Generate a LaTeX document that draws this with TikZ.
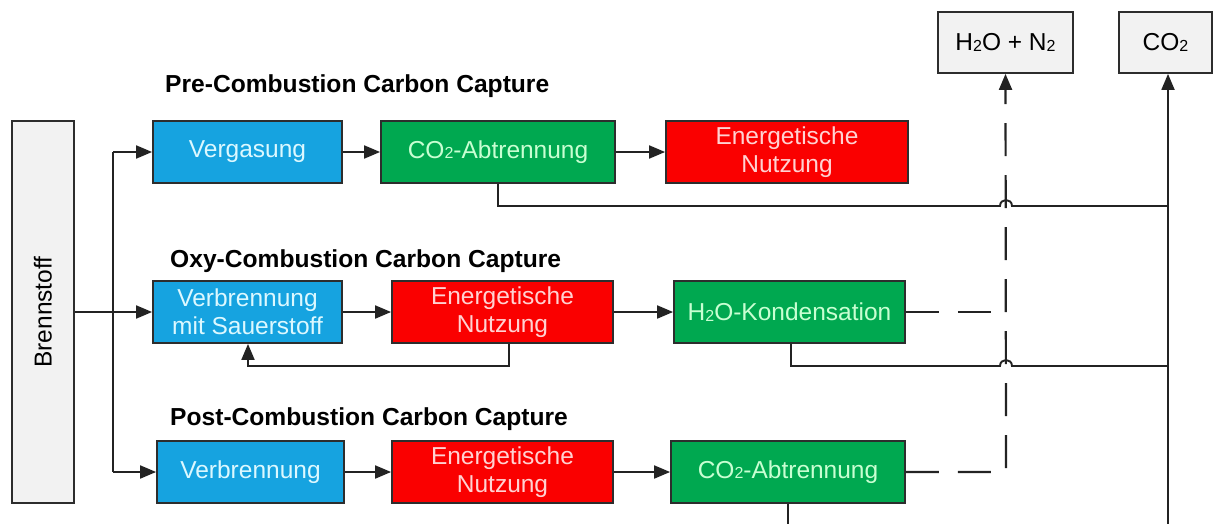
\documentclass[tikz,border=0pt]{standalone}
\usepackage{fontspec}
\setmainfont{Liberation Sans}
\usetikzlibrary{arrows.meta}
\definecolor{bxblue}{RGB}{22,163,224}
\definecolor{bxgreen}{RGB}{0,168,80}
\definecolor{bxred}{RGB}{250,0,0}
\definecolor{txblue}{RGB}{220,248,255}
\definecolor{txgreen}{RGB}{200,255,210}
\definecolor{txred}{RGB}{255,210,210}
\definecolor{bxgray}{RGB}{242,242,242}
\definecolor{edge}{RGB}{45,45,45}
\definecolor{ln}{RGB}{35,35,35}
\newcommand\subtwo{\raisebox{-0.5pt}{\fontsize{16}{16}\selectfont 2}}
\begin{document}
\begin{tikzpicture}[x=1pt,y=-1pt,
  box/.style={draw=edge,line width=1.8pt,inner sep=0pt,minimum height=62pt,align=center,
    font=\fontsize{24.5}{28}\selectfont},
  bluebox/.style={box,fill=bxblue,text=txblue},
  greenbox/.style={box,fill=bxgreen,text=txgreen},
  redbox/.style={box,fill=bxred,text=txred},
  graybox/.style={box,fill=bxgray,text=black},
  title/.style={anchor=base west,inner sep=0pt,font=\fontsize{24.6}{25}\selectfont\bfseries},
  conn/.style={draw=ln,line width=1.9pt},
  arr/.style={conn,-{Triangle[length=16pt,width=13pt]}},
  dsh/.style={conn,line width=2.2pt,dash pattern=on 33pt off 19pt}]
\useasboundingbox (0,0) rectangle (1214,524);
\begin{scope}
\clip (0,0) rectangle (1214,524);
% fuel
\node[graybox,minimum width=62pt,minimum height=382pt] (brenn) at (43,312) {};
\node[rotate=90,inner sep=0pt,font=\fontsize{24.5}{28}\selectfont] (brenntext) at (brenn.center) {Brennstoff};
% titles
\node[title] (t1) at (165,93) {Pre-Combustion Carbon Capture};
\node[title] (t2) at (170,267) {Oxy-Combustion Carbon Capture};
\node[title] (t3) at (170,425) {Post-Combustion Carbon Capture};
% row 1
\node[bluebox,minimum width=189pt] (verg) at (247.5,152) {Vergasung};
\node[greenbox,minimum width=234pt] (co2a) at (498,152) {CO\subtwo-Abtrennung};
\node[redbox,minimum width=242pt] (en1) at (787,152) {Energetische\\Nutzung};
% row 2
\node[bluebox,minimum width=189pt] (vms) at (247.5,312) {Verbrennung\\mit Sauerstoff};
\node[redbox,minimum width=221pt] (en2) at (502.5,312) {Energetische\\Nutzung};
\node[greenbox,minimum width=231pt] (h2o) at (789.5,312) {H\subtwo O-Kondensation};
% row 3
\node[bluebox,minimum width=187pt] (verb) at (250.5,472) {Verbrennung};
\node[redbox,minimum width=221pt] (en3) at (502.5,472) {Energetische\\Nutzung};
\node[greenbox,minimum width=234pt] (co2b) at (788,472) {CO\subtwo-Abtrennung};
% outputs
\node[graybox,minimum width=135pt,minimum height=61pt] (outw) at (1005.5,42.5) {H\subtwo O + N\subtwo};
\node[graybox,minimum width=93pt,minimum height=61pt] (outc) at (1165.5,42.5) {CO\subtwo};
% coordinates
\coordinate (br) at (113,312);
\coordinate (brT) at (113,152);
\coordinate (brB) at (113,472);
\coordinate (fbR) at (509,366);
\coordinate (fbL) at (248,366);
\coordinate (kx) at (791,366);
\coordinate (dx) at (1006,312);
\coordinate (dxb) at (1006,472);
\coordinate (cT) at (1168,206);
\coordinate (cM) at (1168,366);
\coordinate (cB) at (1168,530);
\coordinate (bB) at (788,530);
% fuel branches
\draw[arr] (brenn.east) -- (vms.west);
\draw[conn] (brT) -- (brB);
\draw[arr] (brT) -- (verg.west);
\draw[arr] (brB) -- (verb.west);
% row arrows
\draw[arr] (verg) -- (co2a);
\draw[arr] (co2a) -- (en1);
\draw[arr] (vms) -- (en2);
\draw[arr] (en2) -- (h2o);
\draw[arr] (verb) -- (en3);
\draw[arr] (en3) -- (co2b);
% feedback
\draw[arr] (en2.south -| fbR) -- (fbR) -- (fbL) -- (fbL |- vms.south);
% dashed H2O + N2 path
\draw[dsh] (h2o.east) -- (dx);
\draw[dsh,-{Triangle[length=16pt,width=13pt]}] (co2b.east) -- (dxb) -- (outw.south);
% CO2 collection
\draw[conn] (co2a.south) |- (1000,206) .. controls (1000,198) and (1012,198) .. (1012,206) -- (cT);
\draw[conn] (h2o.south -| kx) -- (kx) -- (1000,366) .. controls (1000,358) and (1012,358) .. (1012,366) -- (cM);
\draw[conn] (co2b.south) -- (bB);
\draw[arr] (cB) -- (outc.south -| cB);
\end{scope}
\end{tikzpicture}
\end{document}
